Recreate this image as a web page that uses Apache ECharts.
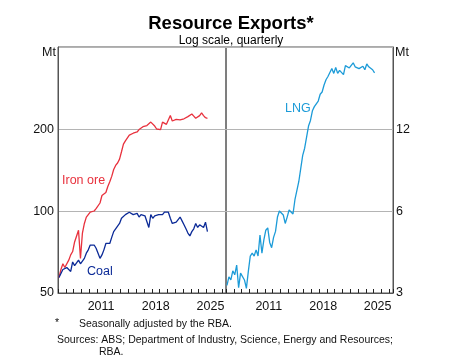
<!DOCTYPE html>
<html>
<head>
<meta charset="utf-8">
<script src="https://cdn.jsdelivr.net/npm/echarts@6/dist/echarts.min.js"></script>
<style>
html,body{margin:0;padding:0;background:#fff;}
#c{width:474px;height:359px;}
</style>
</head>
<body>
<div id="c"></div>
<script>
// Quarterly data, 2006 Q1 to 2025 Q1
const firstYear = 2006;
const ironOre = [57,61,64,62,63,66,69,71,77,76,85,67,83,90,95,94,99,98,100,102,
  101,107,114,115,117,123,128,134,142,147,150,155,165,176,181,184,190,188,193,196,
  195,199,202,204,203,206,208,212,215,205,200,197,199,212,209,208,210,224,214,215,
  217,218,216,219,218,221,222,220,227,223,219,222,224,229,224,220,219];
const coal = [57,59,61,62,62,62,60,65,63,63,66,64,64,67,70,72,75,75,75,73,
  70,67,69,72,76,76,76,80,84,86,86,90,94,95,97,98,99,98,97,98,
  98,95,97,97,96,95,87,97,94,96,97,97,98,97,99,100,99,94,90,90,
  91,90,95,92,89,86,83,81,84,86,90,87,89,90,87,91,84];
const lng = [3.2,3.44,3.35,3.62,3.5,3.8,3.14,3.55,3.5,3.35,3.12,3.6,4.1,4.2,4.1,4.32,4.1,4.9,4.2,4.7,
  5.1,5.2,4.6,4.4,4.8,5.05,5.7,6.0,5.95,5.8,5.4,5.7,6.05,6.0,5.85,6.6,
  6.7,7.7,8.6,9.6,10.2,11.2,12.3,12.9,14.0,14.5,14.3,15.2,16.1,16.4,17.4,18.2,18.7,18.4,
  20.0,19.2,20.2,19.2,19.7,20.0,19.0,20.5,20.8,20.1,20.4,21.0,20.3,20.5,20.0,20.3,
  20.4,19.8,20.8,20.3,20.0,19.8,19.3];
const yearLabels = ['2011','2018','2025'];
const leftTicks = ['50','100','200',''];
const rightTicks = ['3','6','12',''];

function toPairs(vals){
  return vals.map((v,i)=>[firstYear + (i+0.5)/4, v]);
}

const chart = echarts.init(document.getElementById('c'), null, {renderer:'canvas'});
const FONT = 'Liberation Sans, Arial, sans-serif';
const frameColor = '#555';
const gridColor = '#b4b4b4';

function xAxisCfg(gi){
  return {
    type:'value', gridIndex:gi, min:2006, max:2027.5, interval:1,
    axisLine:{show:true, lineStyle:{color:frameColor, width:1}},
    axisTick:{show:true, inside:true, length:4, lineStyle:{color:'#222', width:1}},
    splitLine:{show:false},
    axisLabel:{
      show:true, color:'#111', fontSize:12.5, fontFamily:FONT, margin:7,
      padding:[0,0,0,8],
      formatter:(v)=> yearLabels.indexOf(String(v))>=0 ? String(v) : ''
    }
  };
}

function fmt(list, base){
  return (v)=>{ const k = Math.round(Math.log2(v/base)); return (k>=0 && k<list.length) ? list[k] : ''; };
}

chart.setOption({
  animation:false,
  backgroundColor:'#fff',
  title:[
    {text:'Resource Exports*', left:226, top:9, textAlign:'center',
     textStyle:{fontSize:18.5, fontWeight:'bold', color:'#000', fontFamily:FONT}},
    {text:'Log scale, quarterly', left:226, top:30, textAlign:'center',
     textStyle:{fontSize:12, fontWeight:'normal', color:'#000', fontFamily:FONT}}
  ],
  grid:[
    {left:58, top:47, width:168, height:246, show:true, borderColor:frameColor, borderWidth:1, backgroundColor:'transparent'},
    {left:226, top:47, width:167, height:246, show:true, borderColor:frameColor, borderWidth:1, backgroundColor:'transparent'}
  ],
  xAxis:[xAxisCfg(0), xAxisCfg(1)],
  yAxis:[
    {type:'log', logBase:2, gridIndex:0, min:50, max:400, interval:1, position:'left',
     axisLine:{show:true, lineStyle:{color:frameColor}},
     axisTick:{show:false},
     splitLine:{show:true, lineStyle:{color:gridColor, width:1}},
     axisLabel:{color:'#111', fontSize:12.5, fontFamily:FONT, margin:4, hideOverlap:false,
       showMinLabel:true, showMaxLabel:true, formatter:fmt(leftTicks, 50)}},
    {type:'log', logBase:2, gridIndex:1, min:3, max:24, interval:1, position:'right',
     axisLine:{show:true, lineStyle:{color:frameColor}},
     axisTick:{show:false},
     splitLine:{show:true, lineStyle:{color:gridColor, width:1}},
     axisLabel:{color:'#111', fontSize:12.5, fontFamily:FONT, margin:3, hideOverlap:false,
       showMinLabel:true, showMaxLabel:true, formatter:fmt(rightTicks, 3)}}
  ],
  series:[
    {name:'Iron ore', type:'line', xAxisIndex:0, yAxisIndex:0, data:toPairs(ironOre),
     showSymbol:false, lineStyle:{color:'#e8313d', width:1.3}, itemStyle:{color:'#e8313d'}},
    {name:'Coal', type:'line', xAxisIndex:0, yAxisIndex:0, data:toPairs(coal),
     showSymbol:false, lineStyle:{color:'#0b2a97', width:1.3}, itemStyle:{color:'#0b2a97'}},
    {name:'LNG', type:'line', xAxisIndex:1, yAxisIndex:1, data:toPairs(lng),
     showSymbol:false, lineStyle:{color:'#1c9bd8', width:1.3}, itemStyle:{color:'#1c9bd8'}}
  ],
  graphic:[
    {type:'text', right:474-56, top:46, style:{text:'Mt', fontSize:12.5, fontFamily:FONT, fill:'#111'}},
    {type:'text', left:395, top:46, style:{text:'Mt', fontSize:12.5, fontFamily:FONT, fill:'#111'}},
    {type:'text', left:62, top:174, style:{text:'Iron ore', fontSize:12.5, fontFamily:FONT, fill:'#e8313d'}},
    {type:'text', left:87, top:265, style:{text:'Coal', fontSize:12.5, fontFamily:FONT, fill:'#0b2a97'}},
    {type:'text', left:285, top:102, style:{text:'LNG', fontSize:12.5, fontFamily:FONT, fill:'#1c9bd8'}},
    {type:'text', left:55, top:318, style:{text:'*', fontSize:10.5, fontFamily:FONT, fill:'#111'}},
    {type:'text', left:79, top:319, style:{text:'Seasonally adjusted by the RBA.', fontSize:10.5, fontFamily:FONT, fill:'#111'}},
    {type:'text', left:57, top:335, style:{text:'Sources: ABS; Department of Industry, Science, Energy and Resources;', fontSize:10.5, fontFamily:FONT, fill:'#111'}},
    {type:'text', left:99, top:347, style:{text:'RBA.', fontSize:10.5, fontFamily:FONT, fill:'#111'}}
  ]
});
</script>
</body>
</html>
